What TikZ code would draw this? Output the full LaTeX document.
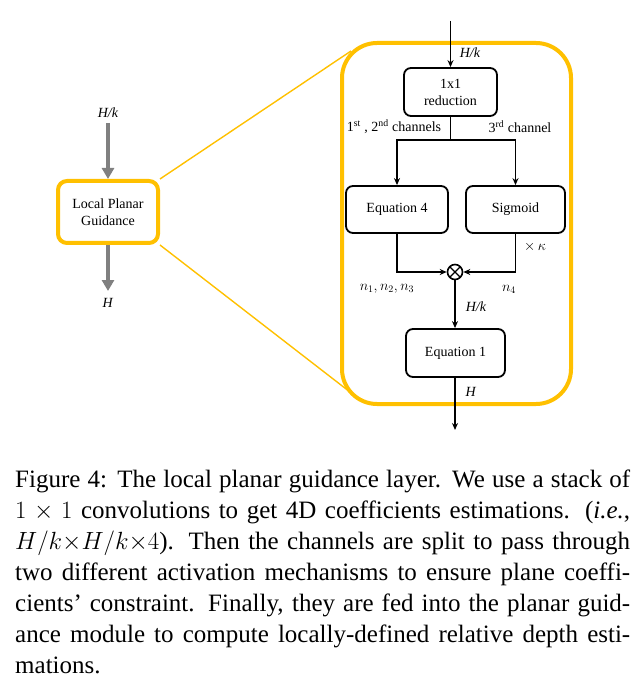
\documentclass[tikz,border=0pt]{standalone}
\usepackage{amsmath,amssymb}
\usepackage{fontspec}
\setmainfont{Liberation Serif}
\usepackage{tikz}
\usetikzlibrary{arrows.meta,positioning,calc}
\usepackage{xcolor}
\definecolor{lpgYellow}{HTML}{FFC000}
\definecolor{lpgGray}{HTML}{808080}

\begin{document}
\begin{tikzpicture}[
  x=1pt, y=-1pt,
  every node/.style={font=\fontsize{14}{17}\selectfont},
  box/.style={
    draw,
    line width=1.8pt,
    rounded corners=7pt,
    align=center,
    minimum width=99pt,
    minimum height=48pt,
    inner sep=2pt
  },
  module/.style={
    draw=lpgYellow,
    line width=4pt,
    rounded corners=35pt,
    minimum width=229pt,
    minimum height=361pt
  },
  lpgbox/.style={
    draw=lpgYellow,
    line width=4pt,
    rounded corners=9pt,
    align=center,
    fill=white,
    minimum width=100pt,
    minimum height=62pt
  },
  arrow/.style={
    -{Stealth[length=7pt,width=6pt]},
    line width=1.6pt
  },
  grayArrow/.style={
    -{Triangle[length=11pt,width=12pt]},
    line width=4.5pt,
    draw=lpgGray
  },
  zoomLine/.style={draw=lpgYellow, line width=1.4pt},
  lbl/.style={font=\fontsize{14}{17}\selectfont, inner sep=1pt}
]
\useasboundingbox (0,0) rectangle (641,692);

% ------------------------------------------------
% Left: compact block
% ------------------------------------------------
\node[lpgbox] (lpg) at (108,212) {Local Planar\\Guidance};
\coordinate (lpgIn)  at (108,123);
\coordinate (lpgOut) at (108,291);
\node[lbl] (lpgInLbl)  at (108,113) {\textit{H/k}};
\node[lbl] (lpgOutLbl) at (108,303) {\textit{H}};
\draw[grayArrow] (lpgIn) -- (lpg.north);
\draw[grayArrow] (lpg.south) -- (lpgOut);

% ------------------------------------------------
% Right: expanded module
% ------------------------------------------------
\node[module] (big) at (456.5,223.5) {};

\coordinate (zoomTop) at (351,51);
\coordinate (zoomBot) at (350,392);
\draw[zoomLine] (lpg.north east) -- (zoomTop);
\draw[zoomLine] (lpg.south east) -- (zoomBot);

\node[box, minimum width=93pt] (reduction) at (450.5,92) {1x1\\reduction};
\node[box, minimum width=102pt, minimum height=47pt] (eqFour) at (397,209.5) {Equation 4};
\node[box, minimum height=47pt] (sigmoid) at (515.5,209.5) {Sigmoid};
\node[draw, circle, line width=1.6pt, minimum size=15pt, inner sep=0pt,
  path picture={
    \draw[line width=1.4pt] (path picture bounding box.north west) -- (path picture bounding box.south east);
    \draw[line width=1.4pt] (path picture bounding box.north east) -- (path picture bounding box.south west);
  }] (prod) at (455,272) {};
\node[box] (eqOne) at (455.5,353) {Equation 1};

% Helper points
\coordinate (topIn) at (450.5,21);
\coordinate (split) at (450.5,140);
\coordinate (botOut) at (455,430);

% Arrows
\draw[arrow] (topIn) -- (reduction.north);
\draw[line width=1.6pt] (reduction.south) -- (split);
\draw[arrow] (split) -| (eqFour.north);
\draw[arrow] (split) -| (sigmoid.north);
\draw[arrow] (eqFour.south) |- (prod.west);
\draw[arrow] (sigmoid.south) |- (prod.east);
\draw[arrow] (prod.south) -- (prod.south |- eqOne.north);
\draw[arrow] (eqOne.south -| prod.south) -- (botOut);

% Labels
\node[lbl] (inLbl)    at (470,53)  {\textit{H/k}};
\node[lbl] (chanA)    at (394,127) {1\textsuperscript{st} , 2\textsuperscript{nd} channels};
\node[lbl] (chanB)    at (520,127) {3\textsuperscript{rd} channel};
\node[lbl] (kappaLbl) at (535,247) {$\times\,\kappa$};
\node[lbl] (nLbl)     at (387,289) {$n_1, n_2, n_3$};
\node[lbl] (nFourLbl) at (509,289) {$n_4$};
\node[lbl] (midLbl)   at (476,307) {\textit{H/k}};
\node[lbl] (outLbl)   at (471,392) {\textit{H}};

% ------------------------------------------------
% Caption
% ------------------------------------------------
\node[anchor=base west, inner sep=0pt, text width=615pt, align=justify,
  font=\fontsize{25}{31}\selectfont] (caption) at (15,487) {%
  \hyphenpenalty=10000\tolerance=10000%
  Figure 4: The local planar guidance layer. We use a stack of\linebreak
  $1\times1$ convolutions to get 4D coefficients estimations. (\textit{i.e.},\linebreak
  $H/k{\times}H/k{\times}4$). Then the channels are split to pass through\linebreak
  two different activation mechanisms to ensure plane coeffi-\linebreak
  cients’ constraint. Finally, they are fed into the planar guid-\linebreak
  ance module to compute locally-defined relative depth esti-\linebreak
  mations.};

\end{tikzpicture}
\end{document}
